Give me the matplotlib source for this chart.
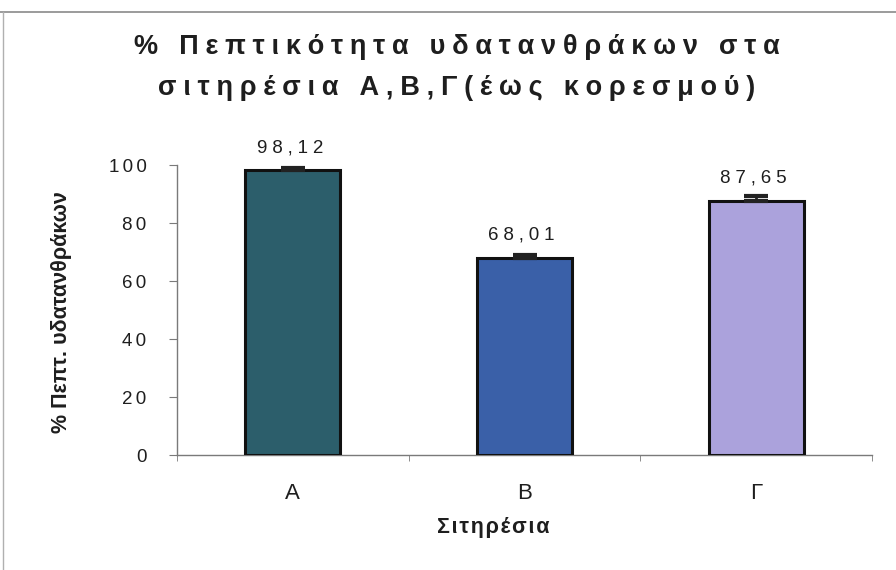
import matplotlib
matplotlib.use("Agg")
import matplotlib.pyplot as plt
from matplotlib.lines import Line2D
import numpy as np

# Data
categories = ["A", "B", "Γ"]
values = [98.12, 68.01, 87.65]
errors = [0.8, 0.9, 1.8]
value_labels = ["98,12", "68,01", "87,65"]
bar_colors = ["#2c5e6b", "#3a60a8", "#aba2dc"]
yticks = [0, 20, 40, 60, 80, 100]

title_lines = ["% Πεπτικότητα υδατανθράκων στα", "σιτηρέσια Α,Β,Γ(έως κορεσμού)"]
xlabel = "Σιτηρέσια"
ylabel = "% Πεπτ. υδατανθράκων"

HAIR = "\u200a"


def spaced(s, n=1):
    """Widen tracking by putting hair spaces between characters."""
    return (HAIR * n).join(s)


SANS = ["Liberation Sans", "DejaVu Sans"]
TXT = "#1e1e1e"
AXC = "#7a7a7a"

fig = plt.figure(figsize=(8.96, 5.70), dpi=100)
fig.patch.set_facecolor("white")
ax = fig.add_axes([177 / 896, 1 - 455 / 570, (872 - 177) / 896, (455 - 165) / 570])

x = np.arange(len(categories))
ax.bar(x, values, width=0.41, color=bar_colors, edgecolor="#111111",
       linewidth=2.2, zorder=3)
ax.errorbar(x, values, yerr=[np.zeros(len(errors)), errors], fmt="none",
            ecolor="#222222", elinewidth=2, capsize=8.5, capthick=3, zorder=4)

for xi, v, lab in zip(x, values, value_labels):
    ax.annotate(spaced(lab, 3), (xi, v), xytext=(-2, 10),
                textcoords="offset points", ha="center", va="bottom",
                fontsize=13.5, color=TXT, family=SANS)

ax.set_xlim(-0.5, len(categories) - 0.5)
ax.set_ylim(0, 100)
ax.set_yticks(yticks)
ax.set_yticklabels([spaced(str(t), 2) for t in yticks], family=SANS,
                   fontsize=13.5, color=TXT)
ax.set_xticks(x)
ax.set_xticklabels(categories, family=SANS, fontsize=16, color=TXT)
ax.set_xticks(np.arange(-0.5, len(categories)), minor=True)
ax.tick_params(axis="x", which="major", length=0, pad=20)
ax.tick_params(axis="x", which="minor", length=4, color=AXC, direction="out")
ax.tick_params(axis="y", length=6, color=AXC, direction="out", pad=16)

for side in ["top", "right"]:
    ax.spines[side].set_visible(False)
for side in ["left", "bottom"]:
    ax.spines[side].set_color(AXC)
    ax.spines[side].set_linewidth(1.0)

fig.text(493 / 896, 1 - 527 / 570, spaced(xlabel, 1), ha="center", va="center",
         family=SANS, fontsize=15.5, fontweight="bold", color=TXT)
fig.text(62 / 896, 1 - 312 / 570, ylabel, ha="center", va="center",
         rotation=90, family=SANS, fontsize=15.5, fontweight="bold", color=TXT)

fig.text(457 / 896, 1 - 47 / 570, spaced(title_lines[0], 3), ha="center",
         va="center", fontsize=19.5, fontweight="bold", color=TXT, family=SANS)
fig.text(457 / 896, 1 - 88 / 570, spaced(title_lines[1], 3), ha="center",
         va="center", fontsize=19.5, fontweight="bold", color=TXT, family=SANS)

# chart-area frame edges
fig.add_artist(Line2D([0, 1], [1 - 12 / 570] * 2, transform=fig.transFigure,
                      color="#8a8a8a", linewidth=1.2))
fig.add_artist(Line2D([3 / 896] * 2, [0, 1 - 12 / 570], transform=fig.transFigure,
                      color="#b0b0b0", linewidth=1.0))

fig.savefig("out.png", dpi=100, facecolor="white")
